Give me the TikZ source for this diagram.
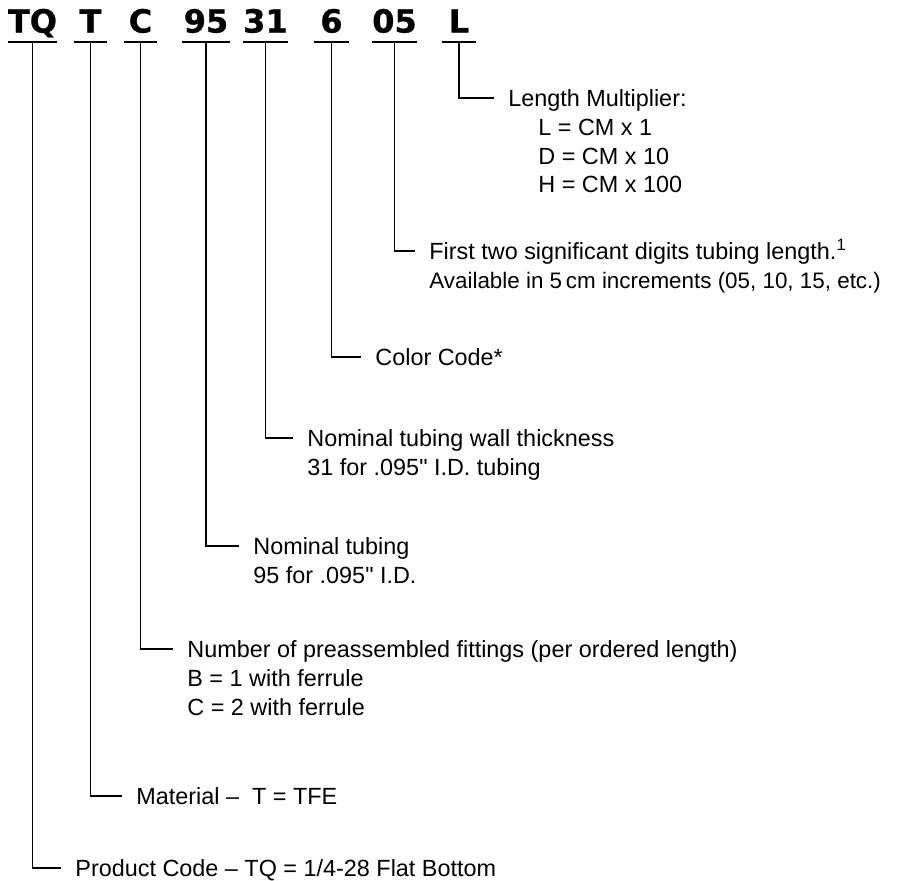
\documentclass[tikz,border=0pt]{standalone}
\usepackage{fontspec}
\setmainfont{Liberation Sans}
\newfontfamily\codefont{DejaVu Sans}[BoldFeatures={FakeBold=0.8}]
\usetikzlibrary{positioning}

\begin{document}
\begin{tikzpicture}[
        x=0.5pt, y=-0.5pt,
        code/.style={inner sep=0pt, anchor=south, text height=11.7pt, text depth=4.5pt, font=\codefont\bfseries\fontsize{16}{19}\selectfont},
        uline/.style={line width=1.4pt},
        lbl/.style={inner sep=0pt, anchor=west, text height=8.5pt, text depth=0pt, font=\fontsize{11.7}{14}\selectfont},
        sub/.style={lbl, anchor=north west},
        conn/.style={line width=0.6pt, shorten >=7pt}
    ]
    \useasboundingbox (0,0) rectangle (900,880);

    \node[code, minimum width=23.5pt] (tq) at (32.5,42) {TQ};
    \node[code, minimum width=16.5pt] (mat) at (90.5,42) {T};
    \node[code, minimum width=16.5pt] (fit) at (140.5,42) {C};
    \node[code, minimum width=23.5pt] (nom) at (206,42) {95};
    \node[code, minimum width=20.5pt] (wall) at (265.5,42) {31};
    \node[code, minimum width=17.5pt] (col) at (331.5,42) {6};
    \node[code, minimum width=22.5pt] (len) at (394.5,42) {05};
    \node[code, minimum width=17pt] (mult) at (459,42) {L};

    \node[lbl] (multT) at (508,98) {Length Multiplier:};
    \node[below=5.5pt of multT.south west, sub, xshift=15pt] (multA) {L = CM x 1};
    \node[below=5.5pt of multA.south west, sub] (multB) {D = CM x 10};
    \node[below=5.5pt of multB.south west, sub] (multC) {H = CM x 100};

    \node[lbl] (lenT) at (429,251) {First two significant digits tubing length.\textsuperscript{1}};
    \node[below=5.5pt of lenT.south west, sub, font=\fontsize{11.2}{14}\selectfont] (lenA) {Available in 5\,cm increments (05, 10, 15, etc.)};

    \node[lbl] (colT) at (375,357) {Color Code*};

    \node[lbl] (wallT) at (307,438) {Nominal tubing wall thickness};
    \node[below=5.5pt of wallT.south west, sub] (wallA) {31 for .095\textquotedbl\ I.D. tubing};

    \node[lbl] (nomT) at (253,546) {Nominal tubing};
    \node[below=5.5pt of nomT.south west, sub] (nomA) {95 for .095\textquotedbl\ I.D.};

    \node[lbl] (fitT) at (187,649) {Number of preassembled fittings (per ordered length)};
    \node[below=5.5pt of fitT.south west, sub] (fitA) {B = 1 with ferrule};
    \node[below=5.5pt of fitA.south west, sub] (fitB) {C = 2 with ferrule};

    \node[lbl] (matT) at (136,796) {Material \textendash\ \ T = TFE};

    \node[lbl] (tqT) at (75,868) {Product Code \textendash\ TQ = 1/4-28 Flat Bottom};

    \foreach \c in {tq,mat,fit,nom,wall,col,len,mult}
        \draw[uline] (\c.south west) -- (\c.south east);

    \draw[conn] (mult.south) |- (multT.west);
    \draw[conn] (len.south) |- (lenT.west);
    \draw[conn] (col.south) |- (colT.west);
    \draw[conn] (wall.south) |- (wallT.west);
    \draw[conn] (nom.south) |- (nomT.west);
    \draw[conn] (fit.south) |- (fitT.west);
    \draw[conn] (mat.south) |- (matT.west);
    \draw[conn] (tq.south) |- (tqT.west);
\end{tikzpicture}
\end{document}
